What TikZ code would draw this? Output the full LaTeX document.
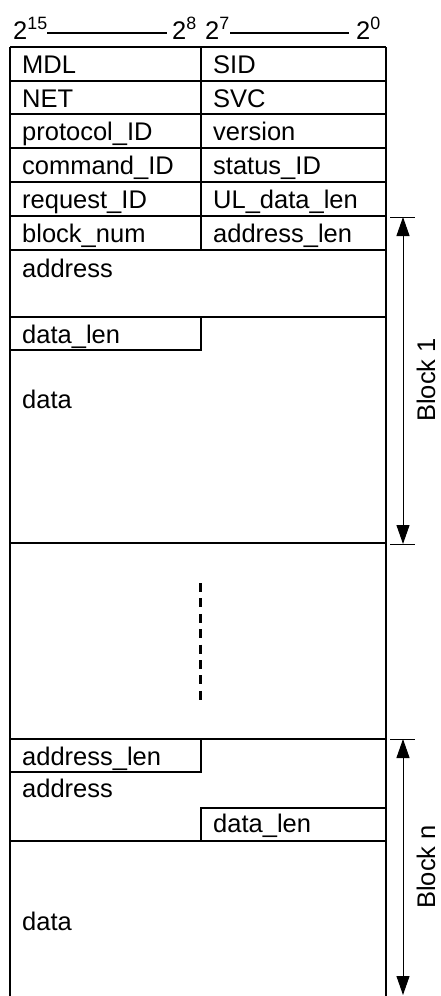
\documentclass[tikz,border=0pt]{standalone}
\usepackage{fontspec}
\setmainfont{Liberation Sans}
\usetikzlibrary{arrows.meta}
\tikzset{
  tbl/.style={line width=2.4pt},
  lbl/.style={anchor=base west, inner sep=0pt, font=\fontsize{25.5}{30}\selectfont},
  hdr/.style={inner sep=0pt, font=\fontsize{25.5}{30}\selectfont},
  dashline/.style={line width=1.6pt},
  tick/.style={line width=1pt},
  span/.style={line width=1pt, {Triangle[width=13pt,length=19pt]}-{Triangle[width=13pt,length=19pt]}},
  vlbl/.style={rotate=90, inner sep=0pt, font=\fontsize{25.5}{30}\selectfont},
  gap/.style={line width=3pt, dash pattern=on 9pt off 6.4pt}
}
\begin{document}
\begin{tikzpicture}[x=1pt,y=-1pt]
\useasboundingbox (0,0) rectangle (440,996);
% header
\node[hdr, anchor=base west] (h15) at (13,39) {2\textsuperscript{15}};
\node[hdr, anchor=base east] (h8) at (197,39) {2\textsuperscript{8}};
\node[hdr, anchor=base west] (h7) at (205,39) {2\textsuperscript{7}};
\node[hdr, anchor=base east] (h0) at (381,39) {2\textsuperscript{0}};
\coordinate (d1a) at (47,33);
\coordinate (d1b) at (167,33);
\coordinate (d2a) at (230,33);
\coordinate (d2b) at (349,33);
\draw[dashline] (d1a) -- (d1b);
\draw[dashline] (d2a) -- (d2b);
% header table
\draw[tbl] (10,47) -- (386,47);
\foreach \y in {81,114,148,182,216} \draw[tbl] (10,\y) -- (386,\y);
\draw[tbl] (201,47) -- (201,250);
\draw[tbl] (10,47) -- (10,996);
\draw[tbl] (386,47) -- (386,996);
\foreach \y in {250,317,543,739,841} \draw[tbl] (10,\y) -- (386,\y);
% block 1 data_len box
\draw[tbl] (10,350) -- (201,350) -- (201,317);
% block n boxes
\draw[tbl] (10,772) -- (201,772) -- (201,739);
\draw[tbl] (201,841) -- (201,808) -- (386,808);
% gap
\draw[gap] (200,583) -- (200,700);
% texts
\node[lbl] (mdl) at (22,73) {MDL};
\node[lbl] (sid) at (213,73) {SID};
\node[lbl] (net) at (22,107) {NET};
\node[lbl] (svc) at (213,107) {SVC};
\node[lbl] (prot) at (22,140) {protocol\_ID};
\node[lbl] (ver) at (213,140) {version};
\node[lbl] (cmd) at (22,174) {command\_ID};
\node[lbl] (stat) at (213,174) {status\_ID};
\node[lbl] (req) at (22,208) {request\_ID};
\node[lbl] (ul) at (213,208) {UL\_data\_len};
\node[lbl] (bn) at (22,242) {block\_num};
\node[lbl] (al1) at (213,242) {address\_len};
\node[lbl] (addr1) at (22,277) {address};
\node[lbl] (dl1) at (22,343) {data\_len};
\node[lbl] (data1) at (22,408) {data};
\node[lbl] (al2) at (22,765) {address\_len};
\node[lbl] (addr2) at (22,797) {address};
\node[lbl] (dl2) at (213,832) {data\_len};
\node[lbl] (data2) at (22,930) {data};
% block 1 span
\coordinate (t1a) at (390,217); \coordinate (t1b) at (415,217);
\coordinate (t2a) at (390,544); \coordinate (t2b) at (415,544);
\draw[tick] (t1a) -- (t1b);
\draw[tick] (t2a) -- (t2b);
\coordinate (a1) at (403,217); \coordinate (a2) at (403,544);
\draw[span] (a1) -- (a2);
\node[vlbl] (b1) at (426,380) {Block 1};
% block n span
\coordinate (t3a) at (390,739); \coordinate (t3b) at (415,739);
\draw[tick] (t3a) -- (t3b);
\coordinate (a3) at (403,739); \coordinate (a4) at (403,995);
\draw[span] (a3) -- (a4);
\node[vlbl] (bn2) at (426,867) {Block n};
\end{tikzpicture}
\end{document}
